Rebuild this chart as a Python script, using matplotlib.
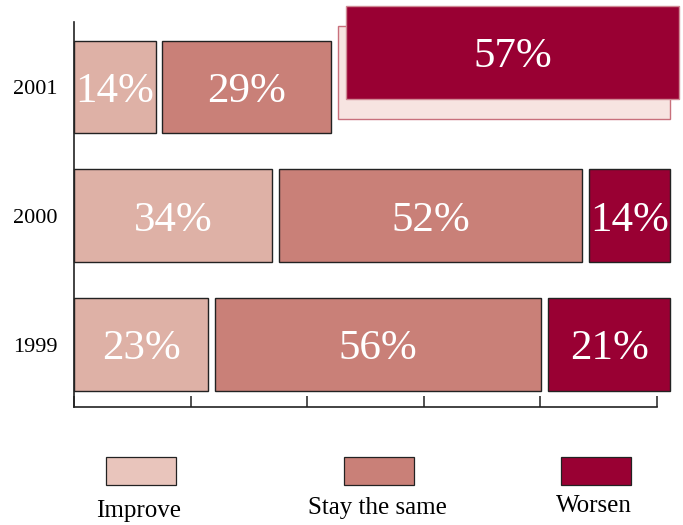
import numpy as np
import matplotlib.pyplot as plt
from matplotlib.patches import Rectangle

years = ['1999', '2000', '2001']
improve = [23, 34, 14]
stay_same = [56, 52, 29]
worsen = [21, 14, 57]
series_names = ['Improve', 'Stay the same', 'Worsen']

bar_colors = ['#DEB1A6', '#C98078', '#990033']
legend_colors = ['#E9C5BC', '#C98078', '#990033']

plt.rcParams['font.family'] = ['Liberation Serif', 'DejaVu Serif']

fig = plt.figure(figsize=(6.83, 5.25), dpi=100)
ax = fig.add_axes([0.1083, 0.2248, 0.8536, 0.7333])

gap = 1.15        # exploded gap between segments (data units)
height = 0.72
ypos = np.arange(len(years))
values = np.array([improve, stay_same, worsen]).T

for i, row in enumerate(values):
    left = 0.0
    for j, v in enumerate(row):
        popped = (years[i] == '2001' and j == 2)
        if popped:
            # shadow box, then the pulled-out box on top
            dy1 = 0.11
            ax.add_patch(Rectangle((left, ypos[i] - height / 2 + dy1), v, height,
                                   facecolor='#F7E4E1', edgecolor='#C8707C',
                                   lw=1, clip_on=False, zorder=2))
            dx2, dy2 = 1.4, 0.27
            ax.add_patch(Rectangle((left + dx2, ypos[i] - height / 2 + dy2), v, height,
                                   facecolor=bar_colors[j], edgecolor='#D08A95',
                                   lw=1, clip_on=False, zorder=3))
            ax.text(left + dx2 + v / 2, ypos[i] + dy2, f'{v}%', color='white',
                    fontsize=31, ha='center', va='center_baseline', zorder=4,
                    clip_on=False)
        else:
            ax.barh(ypos[i], v, left=left, height=height, color=bar_colors[j],
                    edgecolor='#222222', lw=1, zorder=2, clip_on=False)
            ax.text(left + v / 2, ypos[i], f'{v}%', color='white',
                    fontsize=31, ha='center', va='center_baseline', zorder=4,
                    clip_on=False)
        left += v + gap

ax.set_xlim(0, 100)
ax.set_ylim(-0.484, 2.504)
ax.set_xticks(np.arange(0, 101, 20))
ax.set_xticklabels([])
ax.tick_params(axis='x', direction='in', length=8, width=1.2, color='#333333')
ax.set_yticks(ypos)
ax.set_yticklabels(years, fontsize=16)
ax.tick_params(axis='y', length=0, pad=12)
for s in ['top', 'right']:
    ax.spines[s].set_visible(False)
for s in ['left', 'bottom']:
    ax.spines[s].set_linewidth(1.2)
    ax.spines[s].set_color('#222222')

# legend drawn below the axes
leg_x = [106, 344, 561]
label_y = [511, 508, 506]
for k, name in enumerate(series_names):
    x0 = leg_x[k] / 683
    fig.patches.append(Rectangle((x0, 1 - 485 / 525), 70 / 683, 28 / 525,
                                 transform=fig.transFigure, facecolor=legend_colors[k],
                                 edgecolor='#222222', lw=0.9))
    cx = (leg_x[k] + 33) / 683
    fig.text(cx, 1 - label_y[k] / 525, name, fontsize=18, ha='center', va='center')

fig.savefig('out.png', dpi=100)
